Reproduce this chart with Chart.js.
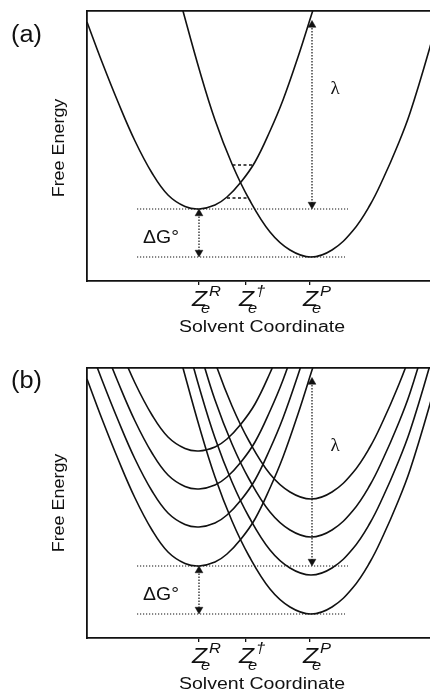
<!DOCTYPE html>
<html>
<head>
<meta charset="utf-8">
<script src="https://cdn.jsdelivr.net/npm/chart.js@4.4.1/dist/chart.umd.min.js"></script>
<style>
  html, body { margin: 0; padding: 0; background: #fff; overflow: hidden; }
  #wrap { position: relative; width: 430px; height: 692px; overflow: hidden; }
  canvas { position: absolute; left: 0; }
</style>
</head>
<body>
<div id="wrap">
  <canvas id="panel-a" width="460" height="346" style="top:0"></canvas>
  <canvas id="panel-b" width="460" height="346" style="top:346px"></canvas>
</div>
<script>
// --- ejes ---
const tickVals = [11.2, 15.9, 22.3];
const tickSups = ["R", "\u2020", "P"];

// --- curvas (a) y curvas inferiores de (b) ---
const reactX = [0.0, 1.5, 3.1, 4.8, 6.5, 8.1, 9.8, 11.2, 12.8, 14.0, 15.4, 16.8, 18.3, 19.6, 21.1, 22.6, 23.2];
const reactY = [25.9, 21.9, 17.9, 14.0, 10.8, 8.6, 7.45, 7.2, 7.6, 8.4, 9.9, 11.9, 15.0, 18.1, 22.4, 27.1, 28.9];
const prodX = [9.0, 9.6, 11.3, 12.8, 14.5, 16.2, 18.3, 20.3, 22.4, 24.5, 26.6, 28.3, 29.6, 31.0, 32.3, 34.3, 35.8];
const prodY = [29.3, 27.0, 20.9, 16.1, 11.7, 8.2, 4.9, 3.1, 2.4, 3.1, 5.05, 7.6, 10.2, 13.4, 16.8, 23.4, 29.0];

// --- curvas superiores de (b) ---
const react2X = [0.0, 1.5, 3.1, 4.8, 6.5, 8.1, 9.8, 11.2, 12.8, 14.0, 15.4, 16.8, 18.3, 19.6, 21.1, 22.6];
const react2Y = [29.8, 25.8, 21.8, 17.9, 14.7, 12.5, 11.35, 11.1, 11.5, 12.3, 13.8, 15.8, 18.9, 22.0, 26.3, 31.0];
const react3X = [1.5, 3.1, 4.8, 6.5, 8.1, 9.8, 11.2, 12.8, 14.0, 15.4, 16.8, 18.3, 19.6, 21.1];
const react3Y = [29.6, 25.6, 21.7, 18.5, 16.3, 15.15, 14.9, 15.3, 16.1, 17.6, 19.6, 22.7, 25.8, 30.1];
const react4X = [3.1, 4.8, 6.5, 8.1, 9.8, 11.2, 12.8, 14.0, 15.4, 16.8, 18.3, 19.6];
const react4Y = [29.4, 25.5, 22.3, 20.1, 18.95, 18.7, 19.1, 19.9, 21.4, 23.4, 26.5, 29.6];

const prod2X = [9.6, 11.3, 12.8, 14.5, 16.2, 18.3, 20.3, 22.4, 24.5, 26.6, 28.3, 29.6, 31.0, 32.3, 34.3, 35.8];
const prod2Y = [30.9, 24.8, 20.0, 15.6, 12.1, 8.8, 7.0, 6.3, 7.0, 8.95, 11.5, 14.1, 17.3, 20.7, 27.3, 32.9];
const prod3X = [11.3, 12.8, 14.5, 16.2, 18.3, 20.3, 22.4, 24.5, 26.6, 28.3, 29.6, 31.0, 32.3, 34.3];
const prod3Y = [28.6, 23.8, 19.4, 15.9, 12.6, 10.8, 10.1, 10.8, 12.75, 15.3, 17.9, 21.1, 24.5, 31.1];
const prod4X = [11.3, 12.8, 14.5, 16.2, 18.3, 20.3, 22.4, 24.5, 26.6, 28.3, 29.6, 31.0, 32.3, 34.3];
const prod4Y = [32.4, 27.6, 23.2, 19.7, 16.4, 14.6, 13.9, 14.6, 16.55, 19.1, 21.7, 24.9, 28.3, 34.9];

// --- líneas guía y flechas ---
const levelUpX = [5.0, 26.1], levelUpY = [7.2, 7.2];
const levelLoX = [5.0, 25.8], levelLoY = [2.4, 2.4];
const dGX = [11.2, 11.2], dGY = [6.75, 2.85];
const lamX = [22.5, 22.5], lamY = [25.6, 7.65];
const crossUpX = [14.55, 16.6], crossUpY = [11.6, 11.6];
const crossLoX = [14.0, 16.2], crossLoY = [8.3, 8.3];

const INK = "#111";
const FONT = "'Liberation Sans', Arial, sans-serif";

function pts(xs, ys) {
    return xs.map((x, i) => ({ x, y: ys[i] }));
}

function curve(xs, ys) {
    return {
        data: pts(xs, ys),
        borderColor: INK,
        borderWidth: 1.6,
        pointRadius: 0,
        tension: 0.4,
        fill: false
    };
}

function guide(xs, ys, dash, width) {
    return {
        data: pts(xs, ys),
        borderColor: INK,
        borderWidth: width,
        borderDash: dash,
        pointRadius: 0,
        fill: false
    };
}

function arrow(xs, ys) {
    return {
        data: pts(xs, ys),
        borderColor: INK,
        borderWidth: 1.2,
        borderDash: [1.5, 1.5],
        pointStyle: "triangle",
        pointRadius: 4.5,
        pointRotation: [0, 180],
        pointBackgroundColor: INK,
        pointBorderColor: INK,
        pointBorderWidth: 0.5,
        fill: false
    };
}

function stretchText(ctx, txt, x, y, font, sx, align, rot) {
    ctx.save();
    ctx.translate(x, y);
    if (rot) ctx.rotate(rot);
    ctx.scale(sx, 1);
    ctx.font = font;
    ctx.fillStyle = INK;
    ctx.textAlign = align;
    ctx.textBaseline = "alphabetic";
    ctx.fillText(txt, 0, 0);
    ctx.restore();
}

// textos dibujados con las escalas del gráfico
const labelsPlugin = {
    id: "labels",
    afterDraw(chart, args, opts) {
        const ctx = chart.ctx;
        const xs = chart.scales.x, ys = chart.scales.y;
        const area = chart.chartArea;
        const base = area.bottom;

        tickVals.forEach((v, i) => {
            const px = xs.getPixelForValue(v);
            stretchText(ctx, "Z", px - 7, base + 25, "italic 22px " + FONT, 1.12, "left");
            stretchText(ctx, "e", px + 2, base + 32, "italic 15px " + FONT, 1.1, "left");
            stretchText(ctx, tickSups[i], px + 10, base + 15, "italic 15px " + FONT, 1.1, "left");
        });

        stretchText(ctx, "Solvent Coordinate", xs.getPixelForValue(17.5), base + 51,
            "16px " + FONT, 1.22, "center");
        stretchText(ctx, "Free Energy", 64, (area.top + area.bottom) / 2 + opts.feShift,
            "16px " + FONT, 1.12, "center", -Math.PI / 2);
        stretchText(ctx, opts.letter, 11, 42, "23px " + FONT, 1.1, "left");

        stretchText(ctx, "\u03bb", xs.getPixelForValue(24.8), ys.getPixelForValue(19.35) + 6,
            "19px 'Liberation Serif', serif", 1.0, "center");
        stretchText(ctx, "\u0394G\u00b0", xs.getPixelForValue(7.4), ys.getPixelForValue(3.85),
            "18px " + FONT, 1.08, "center");
    }
};

function makePanel(id, datasets, padTop, padBottom, letter, feShift) {
    new Chart(document.getElementById(id), {
        type: "line",
        data: { datasets },
        options: {
            responsive: false,
            animation: false,
            devicePixelRatio: 1,
            layout: { padding: { left: 87, right: 13, top: padTop, bottom: padBottom } },
            plugins: {
                legend: { display: false },
                tooltip: { enabled: false },
                labels: { letter, feShift }
            },
            scales: {
                x: {
                    type: "linear", min: 0, max: 36,
                    afterBuildTicks: axis => { axis.ticks = tickVals.map(v => ({ value: v })); },
                    ticks: { display: false },
                    grid: { drawOnChartArea: false, drawTicks: true, tickLength: 4, color: INK, lineWidth: 1.3 },
                    border: { display: true, color: INK, width: 1.8 }
                },
                xTop: {
                    type: "linear", position: "top", min: 0, max: 36,
                    ticks: { display: false },
                    grid: { display: false, drawTicks: false },
                    border: { display: true, color: INK, width: 1.8 }
                },
                y: {
                    type: "linear", min: 0, max: 27,
                    ticks: { display: false },
                    grid: { display: false, drawTicks: false },
                    border: { display: true, color: INK, width: 1.8 }
                }
            }
        },
        plugins: [labelsPlugin]
    });
}

makePanel("panel-a", [
    guide(levelUpX, levelUpY, [1.2, 1.8], 1.2),
    guide(levelLoX, levelLoY, [1.2, 1.8], 1.2),
    arrow(dGX, dGY),
    arrow(lamX, lamY),
    curve(reactX, reactY),
    curve(prodX, prodY),
    guide(crossUpX, crossUpY, [3, 2.5], 1.5),
    guide(crossLoX, crossLoY, [3, 2.5], 1.5)
], 11, 61, "(a)", 2);

makePanel("panel-b", [
    guide(levelUpX, levelUpY, [1.2, 1.8], 1.2),
    guide(levelLoX, levelLoY, [1.2, 1.8], 1.2),
    arrow(dGX, dGY),
    arrow(lamX, lamY),
    curve(reactX, reactY),
    curve(react2X, react2Y),
    curve(react3X, react3Y),
    curve(react4X, react4Y),
    curve(prodX, prodY),
    curve(prod2X, prod2Y),
    curve(prod3X, prod3Y),
    curve(prod4X, prod4Y)
], 22, 50, "(b)", 0);
</script>
</body>
</html>
